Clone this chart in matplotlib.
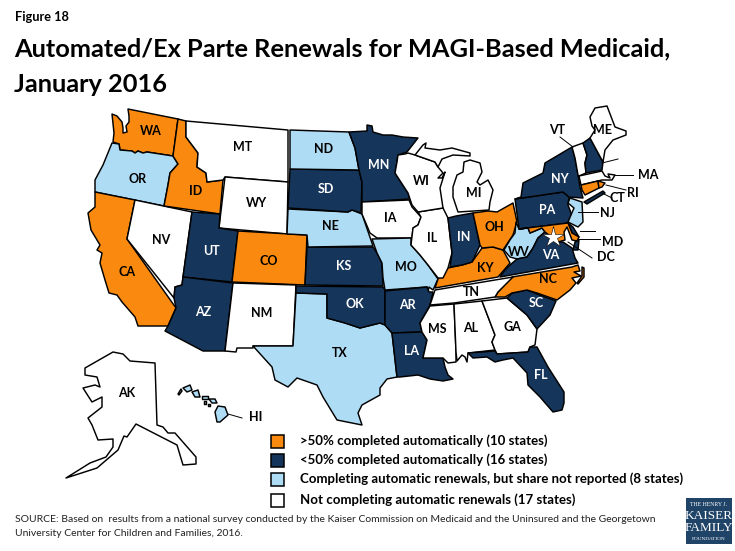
import matplotlib
matplotlib.use('Agg')
import matplotlib.pyplot as plt
from matplotlib.patches import Polygon, Rectangle

plt.rcParams['font.family'] = ['Lato', 'DejaVu Sans']

# categories
over_50 = ['WA', 'ID', 'CA', 'CO', 'OH', 'KY', 'NC', 'MD', 'CT', 'RI']
under_50 = ['UT', 'AZ', 'SD', 'MN', 'KS', 'OK', 'AR', 'LA', 'IN', 'NY', 'PA', 'VA', 'SC', 'FL', 'NH', 'DE']
not_reported = ['OR', 'ND', 'NE', 'TX', 'MO', 'WV', 'NJ', 'HI']
not_completing = ['MT', 'WY', 'NV', 'NM', 'WI', 'MI', 'IL', 'IA', 'MS', 'AL', 'GA', 'TN', 'ME', 'VT', 'MA', 'AK', 'DC']

legend_labels = ['>50% completed automatically (10 states)',
                 '<50% completed automatically (16 states)',
                 'Completing automatic renewals, but share not reported (8 states)',
                 'Not completing automatic renewals (17 states)']
colors = ['#FA8A0F', '#15355A', '#AFDCF5', '#FFFFFF']

# state outlines, in pixels
outlines = {
    'WA': [[(128,109),(178,119),(173,156),(147,152),(143,153),(138,151),(135,153),(132,151),(120,150),(119,144),(113,142),(114,133),(112,114),(117,116),(122,122),(123,128),(123,133),(127,132),(126,126),(129,122),(129,116)]],
    'OR': [[(112,143),(119,144),(120,150),(132,151),(135,153),(138,151),(143,153),(147,152),(173,156),(178,164),(170,173),(168,185),(164,206),(95,192),(95,180),(103,165)]],
    'CA': [[(95,192),(135,200),(127,239),(176,308),(168,326),(138,326),(135,317),(122,302),(117,295),(109,293),(105,280),(100,263),(102,253),(97,250),(100,245),(91,230),(88,213),(95,207)]],
    'NV': [[(135,200),(192,212),(183,277),(182,285),(175,287),(174,298),(127,239)]],
    'ID': [[(178,119),(186,121),(186,137),(198,153),(197,167),(206,173),(207,182),(223,180),(220,214),(164,206),(168,185),(170,173),(178,164),(173,156)]],
    'MT': [[(186,121),(288,130),(288,182),(225,177),(223,180),(207,182),(206,173),(197,167),(198,153),(186,137)]],
    'WY': [[(225,177),(288,182),(287,234),(219,228)]],
    'UT': [[(192,212),(220,214),(219,228),(238,231),(232,282),(183,277)]],
    'CO': [[(238,231),(307,235),(305,285),(232,282)]],
    'AZ': [[(183,277),(233,283),(225,351),(203,351),(165,331),(168,326),(176,308),(174,298),(175,287),(182,285)]],
    'NM': [[(233,283),(296,285),(293,346),(253,346),(253,348),(237,348),(236,352),(225,351)]],
    'TX': [[(296,293),(327,294),(327,318),(345,323),(360,328),(380,323),(385,325),(392,333),(397,377),(387,379),(380,388),(380,395),(362,405),(358,413),(362,425),(337,420),(323,397),(317,385),(297,378),(288,387),(275,380),(272,367),(253,346),(293,346)]],
    'OK': [[(296,286),(383,287),(385,290),(385,325),(380,323),(360,328),(345,323),(327,318),(327,294),(296,293)]],
    'KS': [[(307,247),(373,247),(377,253),(382,263),(383,286),(305,285)]],
    'NE': [[(288,209),(348,212),(352,210),(362,214),(373,246),(308,247),(307,235),(287,234)]],
    'SD': [[(290,169),(359,170),(362,182),(361,213),(352,210),(348,212),(288,208)]],
    'ND': [[(290,130),(349,132),(355,148),(359,170),(290,169)]],
    'MN': [[(349,132),(367,131),(367,125),(372,126),(373,132),(383,135),(392,135),(403,137),(418,138),(407,152),(398,155),(397,162),(395,173),(408,193),(410,199),(362,202),(362,182),(359,170),(355,148)]],
    'IA': [[(362,202),(409,200),(412,207),(421,217),(418,225),(413,228),(412,238),(377,238),(370,233),(362,214)]],
    'MO': [[(372,239),(411,238),(411,245),(420,255),(428,265),(438,279),(433,290),(429,287),(428,292),(427,287),(385,290),(383,278),(382,263),(377,253)]],
    'AR': [[(385,291),(427,287),(429,292),(433,292),(430,305),(420,323),(422,332),(392,333),(385,325)]],
    'LA': [[(392,333),(422,332),(427,340),(423,358),(443,358),(445,367),(448,375),(453,379),(443,381),(430,379),(418,375),(400,377),(397,377)]],
    'MS': [[(430,306),(454,304),(456,352),(456,362),(448,363),(443,358),(423,358),(427,340),(422,332),(420,323)]],
    'AL': [[(454,304),(482,301),(495,335),(492,342),(495,350),(468,353),(467,362),(465,357),(462,355),(457,361),(456,352)]],
    'GA': [[(482,301),(507,298),(527,315),(537,329),(535,345),(530,347),(528,352),(497,354),(495,350),(492,342),(495,335)]],
    'FL': [[(468,353),(495,351),(497,354),(528,352),(530,347),(537,347),(548,367),(564,392),(564,403),(562,410),(553,412),(540,397),(528,385),(527,373),(513,358),(503,360),(495,362),(487,357),(473,358)]],
    'SC': [[(507,298),(512,293),(527,290),(537,294),(556,301),(550,315),(537,329),(527,315)]],
    'NC': [[(495,297),(498,292),(512,277),(572,267),(578,265),(580,271),(574,272),(581,276),(572,278),(576,283),(570,290),(557,300),(537,293),(527,290),(512,293),(505,297)],
           [(582,267),(584,268),(584,277),(578,284),(577,283),(582,276)]],
    'TN': [[(430,305),(435,290),(513,277),(498,292),(495,297),(454,303)]],
    'KY': [[(435,288),(438,279),(448,268),(462,265),(472,262),(482,248),(493,247),(503,250),(510,263),(498,277)]],
    'IL': [[(418,212),(443,208),(448,218),(452,253),(448,268),(443,278),(438,278),(428,265),(420,255),(411,245),(413,228),(418,225),(421,217)]],
    'WI': [[(398,155),(405,154),(408,153),(415,155),(435,162),(438,167),(443,173),(438,178),(442,178),(445,172),(440,188),(443,208),(418,212),(412,205),(410,199),(408,193),(395,173),(397,162)]],
    'MI': [[(415,155),(423,145),(426,143),(425,148),(440,150),(452,148),(470,153),(470,156),(453,155),(442,159),(438,167),(435,162)],
           [(453,187),(457,175),(463,172),(464,162),(470,160),(480,163),(482,172),(477,182),(480,185),(488,180),(493,190),(490,202),(489,210),(458,212),(453,197)]],
    'IN': [[(448,218),(456,216),(473,213),(480,245),(472,262),(462,265),(450,267),(452,253)]],
    'OH': [[(473,213),(488,211),(497,212),(513,203),(517,222),(513,235),(503,250),(493,247),(482,248),(480,245)]],
    'WV': [[(516,222),(519,229),(528,228),(530,233),(542,228),(545,232),(538,238),(533,248),(527,257),(517,259),(510,257),(504,250),(510,240),(515,233)]],
    'VA': [[(500,277),(505,270),(510,265),(517,259),(527,257),(533,248),(538,238),(545,232),(558,242),(563,242),(572,248),(575,258),(578,263)],
           [(575,242),(579,240),(578,250),(573,250)]],
    'PA': [[(515,199),(563,192),(569,197),(568,205),(573,218),(568,223),(519,229)]],
    'NY': [[(521,197),(523,183),(543,173),(545,163),(572,147),(575,158),(578,175),(580,187),(583,198),(569,197),(563,192),(515,199)],
           [(584,202),(603,191),(605,193),(587,204)]],
    'VT': [[(572,147),(583,143),(587,155),(585,163),(586,173),(579,176),(578,175),(575,158)]],
    'NH': [[(583,143),(590,138),(603,162),(602,170),(586,173),(585,163),(587,155)]],
    'ME': [[(592,126),(590,117),(595,108),(607,106),(615,127),(626,131),(626,135),(613,140),(605,150),(603,162),(590,138),(595,130)]],
    'MA': [[(579,176),(602,171),(605,176),(610,178),(608,174),(615,175),(612,180),(605,180),(602,180),(581,185)]],
    'CT': [[(581,185),(598,181),(599,188),(595,190),(585,195),(582,190)]],
    'RI': [[(598,181),(605,183),(602,187),(599,188)]],
    'NJ': [[(570,198),(582,202),(583,222),(578,227),(568,222),(574,208),(568,203)]],
    'DE': [[(568,223),(573,227),(579,237),(572,233)]],
    'MD': [[(519,229),(568,223),(572,233),(579,237),(577,241),(572,240),(567,227),(564,232),(565,240),(558,242),(545,232),(542,228),(530,233),(528,228)]],
    'AK': [[(113,352),(123,354),(130,361),(155,363),(157,425),(163,427),(168,433),(175,433),(196,457),(196,464),(183,465),(177,445),(136,424),(127,437),(124,436),(118,450),(97,468),(66,478),(90,463),(106,457),(113,447),(113,439),(98,440),(92,425),(88,418),(102,407),(102,397),(92,402),(83,388),(95,385),(100,387),(97,377),(85,375),(85,368)]],
    'HI': [[(215,412),(218,406),(225,407),(228,415),(220,422),(217,422)],
           [(209,399),(215,399),(217,403),(212,403)],
           [(192,392),(198,390),(200,397),(195,397)],
           [(183,388),(190,385),(192,390),(187,392)],
           [(178,394),(181,389),(182,391),(179,395)],
           [(202,396),(208,396),(208,399),(202,399)],
           [(204,401),(206,401),(206,404),(204,404)],
           [(208,404),(210,404),(210,406),(208,406)]],
}

# label centres, pixels, (x, y)
labels = {
    'WA': (151,131), 'MT': (243,147), 'OR': (138,179), 'ID': (196,191), 'WY': (257,203),
    'NV': (161,240), 'UT': (211,251), 'CO': (269,261), 'CA': (127,272), 'AZ': (203,312),
    'NM': (262,313), 'TX': (340,353), 'OK': (355,304), 'AK': (127,393), 'HI': (256,417),
    'ND': (324,149), 'SD': (326,189), 'NE': (330,226), 'KS': (344,266), 'MN': (379,165),
    'IA': (390,218), 'MO': (406,267), 'WI': (421,181), 'MI': (474,193), 'IL': (432,238),
    'IN': (464,237), 'OH': (494,227), 'KY': (485,268), 'AR': (407,305), 'TN': (471,292),
    'MS': (437,329), 'AL': (471,328), 'GA': (512,327), 'SC': (536,303), 'NC': (548,279),
    'LA': (412,351), 'FL': (541,375), 'VT': (557,130), 'ME': (603,130), 'NH': (633,154),
    'MA': (648,175), 'RI': (633,193), 'CT': (617,198), 'NY': (560,179), 'PA': (547,210),
    'NJ': (607,213), 'DE': (606,229), 'MD': (613,242), 'DC': (606,257), 'WV': (519,252),
    'VA': (551,255),
}

leaders = [((560,137),(573,147)), ((618,159),(602,163)), ((633,175),(615,175)),
           ((626,190),(606,185)), ((612,198),(602,193)), ((598,212),(578,212)),
           ((595,231),(580,231)), ((600,239),(578,239)), ((592,258),(568,242)),
           ((242,418),(228,414))]

fig = plt.figure(figsize=(7.35, 5.51), dpi=100)
ax = fig.add_axes([0, 0, 1, 1])
ax.set_xlim(0, 735)
ax.set_ylim(551, 0)
ax.axis('off')

groups = [over_50, under_50, not_reported, not_completing]
fill = {}
for group, color in zip(groups, colors):
    for st in group:
        fill[st] = color

for st, parts in outlines.items():
    for part in parts:
        ax.add_patch(Polygon(part, closed=True, facecolor=fill[st], edgecolor='black',
                             linewidth=1.05, joinstyle='round'))

# DC is too small for an outline, so it is shown as a star
ax.plot([553], [237], marker='*', markersize=16, markerfacecolor=fill['DC'],
        markeredgecolor='black', markeredgewidth=0.4, linestyle='none')

for a, b in leaders:
    ax.plot([a[0], b[0]], [a[1], b[1]], color='black', linewidth=0.7)

for st, (x, y) in labels.items():
    c = 'white' if st in under_50 else 'black'
    ax.text(x, y, st, ha='center', va='center', fontsize=9, fontweight='bold', color=c)

# title
ax.text(15, 17, 'Figure 18', fontsize=9.2, fontweight='bold', va='center')
ax.text(14, 49, 'Automated/Ex Parte Renewals for MAGI-Based Medicaid,', fontsize=18.3,
        fontweight='bold', va='center')
ax.text(14, 84, 'January 2016', fontsize=18.3, fontweight='bold', va='center')

# legend
legend_y = [441, 460, 479, 500]
for y, color, label in zip(legend_y, colors, legend_labels):
    ax.add_patch(Rectangle((271, y - 6.5), 13, 13, facecolor=color, edgecolor='black', linewidth=1.1))
    ax.text(300, y, label, fontsize=9.55, fontweight='bold', va='center')

# source
ax.text(15, 520, 'SOURCE: Based on  results from a national survey conducted by the Kaiser Commission on Medicaid and the Uninsured and the Georgetown',
        fontsize=7.46, va='center', color='#222222')
ax.text(15, 534, 'University Center for Children and Families, 2016.', fontsize=7.46, va='center', color='#222222')

# logo
ax.add_patch(Rectangle((686, 498), 46, 46, facecolor='#1F4468', edgecolor='none'))
ax.text(709, 504, 'THE HENRY J.', color='white', fontsize=4.2, family='Liberation Serif', ha='center', va='center')
ax.text(709, 516, 'KAISER', color='white', fontsize=9.5, family='Liberation Serif', ha='center', va='center')
ax.text(709, 528, 'FAMILY', color='white', fontsize=9.5, family='Liberation Serif', ha='center', va='center')
ax.text(709, 539, 'FOUNDATION', color='white', fontsize=3.8, family='Liberation Serif', ha='center', va='center')

fig.savefig('out.png', dpi=100)
